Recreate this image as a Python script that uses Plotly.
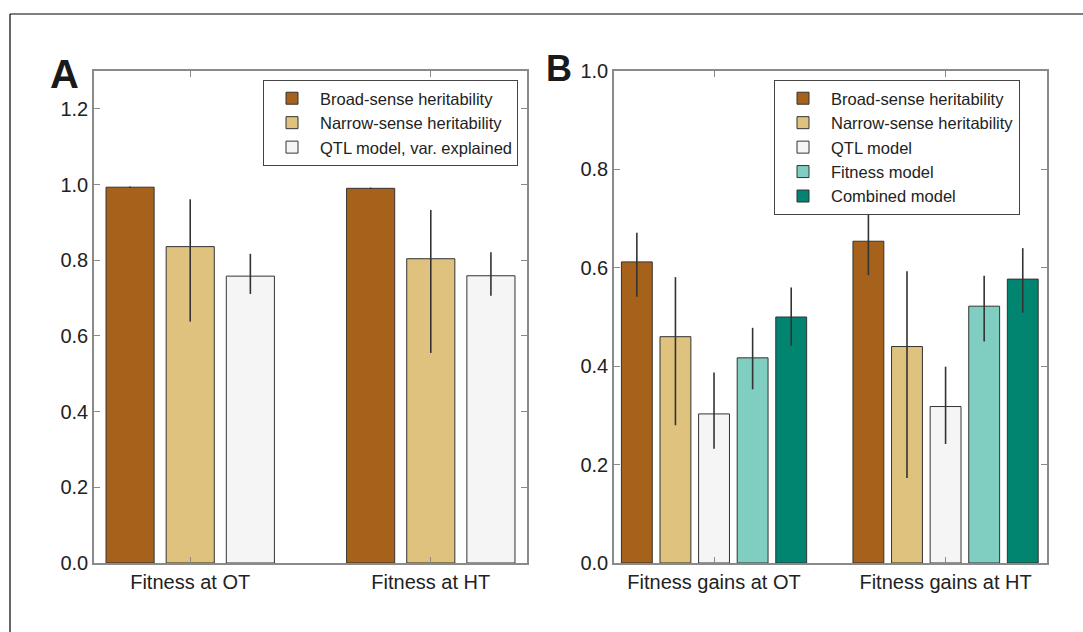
import plotly.graph_objects as go

W, H = 1083, 632

# ---------------- data ----------------
categories_A = ["Fitness at OT", "Fitness at HT"]
broad_A = [0.993, 0.990]
broad_A_hi = [0.995, 0.992]
broad_A_lo = [0.991, 0.988]
narrow_A = [0.836, 0.804]
narrow_A_hi = [0.961, 0.933]
narrow_A_lo = [0.638, 0.555]
qtl_A = [0.758, 0.759]
qtl_A_hi = [0.817, 0.821]
qtl_A_lo = [0.711, 0.706]

categories_B = ["Fitness gains at OT", "Fitness gains at HT"]
broad_B = [0.612, 0.654]
broad_B_hi = [0.671, 0.715]
broad_B_lo = [0.541, 0.585]
narrow_B = [0.460, 0.440]
narrow_B_hi = [0.581, 0.593]
narrow_B_lo = [0.280, 0.173]
qtl_B = [0.303, 0.318]
qtl_B_hi = [0.387, 0.399]
qtl_B_lo = [0.232, 0.242]
fit_B = [0.417, 0.522]
fit_B_hi = [0.478, 0.584]
fit_B_lo = [0.353, 0.450]
comb_B = [0.500, 0.577]
comb_B_hi = [0.560, 0.640]
comb_B_lo = [0.442, 0.509]

yticks_A = [0.0, 0.2, 0.4, 0.6, 0.8, 1.0, 1.2]
yticks_B = [0.0, 0.2, 0.4, 0.6, 0.8, 1.0]

# ---------------- style ----------------
FONT = "Arial, 'Liberation Sans', Helvetica, sans-serif"
C_BROAD, C_NARROW, C_QTL, C_FIT, C_COMB = "#a6611a", "#dfc27d", "#f5f5f5", "#80cdc1", "#018571"
EDGE = "#333333"
AXC = "#8a8a8a"
TXT = "#222222"

fig = go.Figure()


def add_bar(name, vals, hi, lo, color, k, n, slot, width, xa, ya, legend):
    offset = -slot * (n - 1) / 2 + slot * k - width / 2
    fig.add_trace(go.Bar(
        x=list(range(len(vals))), y=vals, name=name,
        marker=dict(color=color, line=dict(color=EDGE, width=1)),
        offset=offset, width=width,
        error_y=dict(type="data", symmetric=False,
                     array=[h - v for h, v in zip(hi, vals)],
                     arrayminus=[v - l for v, l in zip(vals, lo)],
                     color="#333333", thickness=1.6, width=0),
        xaxis=xa, yaxis=ya, legend=legend,
    ))


seriesA = [
    ("Broad-sense heritability", broad_A, broad_A_hi, broad_A_lo, C_BROAD),
    ("Narrow-sense heritability", narrow_A, narrow_A_hi, narrow_A_lo, C_NARROW),
    ("QTL model, var. explained", qtl_A, qtl_A_hi, qtl_A_lo, C_QTL),
]
for k, (nm, v, hi, lo, c) in enumerate(seriesA):
    add_bar(nm, v, hi, lo, c, k, 3, 0.25, 0.2, "x", "y", "legend")

seriesB = [
    ("Broad-sense heritability", broad_B, broad_B_hi, broad_B_lo, C_BROAD),
    ("Narrow-sense heritability", narrow_B, narrow_B_hi, narrow_B_lo, C_NARROW),
    ("QTL model", qtl_B, qtl_B_hi, qtl_B_lo, C_QTL),
    ("Fitness model", fit_B, fit_B_hi, fit_B_lo, C_FIT),
    ("Combined model", comb_B, comb_B_hi, comb_B_lo, C_COMB),
]
for k, (nm, v, hi, lo, c) in enumerate(seriesB):
    add_bar(nm, v, hi, lo, c, k, 5, 1 / 6, 2 / 15, "x2", "y2", "legend2")

ydom = [1 - 563 / H, 1 - 71 / H]
xaxis_common = dict(showline=True, linecolor=AXC, linewidth=1.5, mirror="ticks",
                    ticks="inside", ticklen=6, tickcolor=AXC, tickwidth=1.2,
                    showgrid=False, zeroline=False, automargin=False,
                    layer="above traces",
                    tickfont=dict(family=FONT, size=20, color=TXT))
yaxis_common = dict(showline=True, linecolor=AXC, linewidth=1.5, mirror="ticks",
                    ticks="inside", ticklen=6, tickcolor=AXC, tickwidth=1.2,
                    showgrid=False, zeroline=False, tickformat=".1f", automargin=False,
                    layer="above traces",
                    tickfont=dict(family=FONT, size=20, color=TXT))

legend_common = dict(bgcolor="white", bordercolor="#444444", borderwidth=1,
                     font=dict(family=FONT, size=16.5, color=TXT),
                     xanchor="right", yanchor="top", tracegroupgap=0,
                     itemwidth=46, itemclick=False)

fig.update_layout(
    width=W, height=H, autosize=False,
    margin=dict(l=0, r=0, t=0, b=0, pad=0, autoexpand=False),
    paper_bgcolor="white", plot_bgcolor="white",
    barmode="overlay",
    showlegend=True,
    font=dict(family=FONT, color=TXT),
    xaxis=dict(domain=[94 / W, 527 / W], range=[-0.4, 1.4],
               tickvals=[0, 1], ticktext=categories_A, anchor="y", **xaxis_common),
    yaxis=dict(domain=ydom, range=[0, 1.3], tickvals=yticks_A, anchor="x", **yaxis_common),
    xaxis2=dict(domain=[614 / W, 1047 / W], range=[-0.432, 1.438],
                tickvals=[0, 1], ticktext=categories_B, anchor="y2", **xaxis_common),
    yaxis2=dict(domain=ydom, range=[0, 1.0], tickvals=yticks_B, anchor="x2", **yaxis_common),
    legend=dict(x=518 / W, y=1 - 80 / H, **legend_common),
    legend2=dict(x=1020 / W, y=1 - 80 / H, **legend_common),
    shapes=[
        dict(type="line", xref="paper", yref="paper", x0=10 / W, x1=1.0,
             y0=1 - 14 / H, y1=1 - 14 / H, line=dict(color="black", width=1.2)),
        dict(type="line", xref="paper", yref="paper", x0=10 / W, x1=10 / W,
             y0=1 - 14 / H, y1=0, line=dict(color="black", width=1.2)),
    ],
    annotations=[
        dict(text="<b>A</b>", x=64 / W, y=1 - 74 / H, xref="paper", yref="paper",
             xanchor="center", yanchor="middle", showarrow=False,
             font=dict(family=FONT, size=40, color="#1a1a1a")),
        dict(text="<b>B</b>", x=559 / W, y=1 - 68 / H, xref="paper", yref="paper",
             xanchor="center", yanchor="middle", showarrow=False,
             font=dict(family=FONT, size=36, color="#1a1a1a")),
    ],
)

fig.write_html("out.html")
